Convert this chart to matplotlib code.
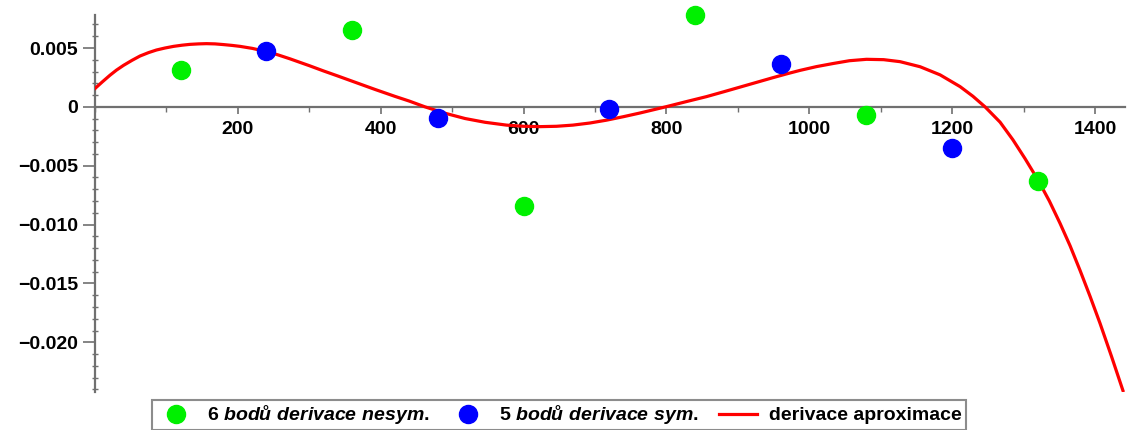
import matplotlib
matplotlib.use("Agg")
import matplotlib.pyplot as plt
from matplotlib.ticker import FixedLocator, FixedFormatter, MultipleLocator

plt.rcParams["font.family"] = ["Liberation Sans", "DejaVu Sans"]
plt.rcParams["font.weight"] = "bold"
plt.rcParams["mathtext.fontset"] = "custom"
plt.rcParams["mathtext.it"] = "Liberation Sans:italic:bold"
plt.rcParams["mathtext.rm"] = "Liberation Sans:bold"

# 6-point non-symmetric derivative
green_x = [120, 360, 600, 840, 1080, 1320]
green_y = [0.00311, 0.00656, -0.00842, 0.00780, -0.00072, -0.00632]

# 5-point symmetric derivative
blue_x = [240, 480, 720, 960, 1200]
blue_y = [0.00475, -0.00098, -0.00022, 0.00362, -0.00350]

# derivative of the approximation
curve_x = [0, 10, 21, 30, 40, 52, 63, 75, 86, 98, 110, 122, 133, 145, 156, 168,
           180, 192, 203, 220, 240, 256, 273, 286, 300, 320, 340, 366, 392, 420,
           440, 462, 490, 518, 546, 576, 600, 623, 646, 669, 693, 716, 740, 763,
           800, 828, 856, 880, 903, 926, 949, 968, 987, 1010, 1033, 1056, 1080,
           1104, 1127, 1155, 1183, 1211, 1229, 1246, 1267, 1285, 1302, 1320,
           1336, 1351, 1365, 1379, 1393, 1407, 1423, 1439]
curve_y = [0.00156, 0.00211, 0.00269, 0.00312, 0.00353, 0.00396, 0.00432, 0.00461,
           0.00483, 0.00500, 0.00514, 0.00524, 0.00531, 0.00535, 0.00537, 0.00535,
           0.00529, 0.00522, 0.00514, 0.00497, 0.00470, 0.00442, 0.00408, 0.00380,
           0.00350, 0.00305, 0.00262, 0.00205, 0.00148, 0.00089, 0.00049, 0.00000,
           -0.00054, -0.00099, -0.00131, -0.00155, -0.00165, -0.00168, -0.00165,
           -0.00155, -0.00137, -0.00113, -0.00083, -0.00052, 0.00002, 0.00045,
           0.00087, 0.00128, 0.00168, 0.00208, 0.00248, 0.00280, 0.00310, 0.00342,
           0.00368, 0.00392, 0.00404, 0.00401, 0.00384, 0.00341, 0.00272, 0.00172,
           0.00090, 0.00000, -0.00130, -0.00280, -0.00440, -0.00620, -0.00800,
           -0.00990, -0.01180, -0.01390, -0.01610, -0.01840, -0.02120, -0.02410]

yticks = [0.005, 0.0, -0.005, -0.010, -0.015, -0.020]
ytick_labels = ["0.005", "0", "\u22120.005", "\u22120.010", "\u22120.015", "\u22120.020"]
xticks = [200, 400, 600, 800, 1000, 1200, 1400]

labels = ["6 $\\it{bodů\\ derivace\\ nesym.}$",
          "5 $\\it{bodů\\ derivace\\ sym.}$",
          "derivace aproximace"]

fig = plt.figure(figsize=(11.27, 4.30), dpi=100)
ax = fig.add_axes([0.0843, 0.089, 0.914, 0.876])

ax.plot(curve_x, curve_y, color="#ff0000", lw=2.3, label=labels[2], zorder=2)
ax.plot(green_x, green_y, "o", color="#00f000", ms=13, label=labels[0],
        zorder=3, clip_on=False)
ax.plot(blue_x, blue_y, "o", color="#0000ff", ms=13, label=labels[1],
        zorder=3, clip_on=False)

ax.set_xlim(0, 1442)
ax.set_ylim(-0.0242, 0.0078)

for s in ["top", "right"]:
    ax.spines[s].set_visible(False)
ax.spines["bottom"].set_position(("data", 0))
ax.spines["left"].set_position(("data", 0))
for s in ["bottom", "left"]:
    ax.spines[s].set_color("#707070")
    ax.spines[s].set_linewidth(1.6)
    ax.spines[s].set_zorder(1)

ax.xaxis.set_major_locator(FixedLocator(xticks))
ax.xaxis.set_minor_locator(MultipleLocator(100))
ax.yaxis.set_major_locator(FixedLocator(yticks))
ax.yaxis.set_major_formatter(FixedFormatter(ytick_labels))
ax.yaxis.set_minor_locator(MultipleLocator(0.001))

ax.tick_params(axis="x", which="major", direction="out", length=5, width=1.2,
               color="#707070", labelsize=14, pad=5)
ax.tick_params(axis="x", which="minor", direction="out", length=3.5, width=1.0,
               color="#707070")
ax.tick_params(axis="y", which="major", direction="out", length=9, width=1.2,
               color="#707070", labelsize=14, pad=3)
ax.tick_params(axis="y", which="minor", direction="inout", length=5, width=1.0,
               color="#707070")

handles, labs = ax.get_legend_handles_labels()
order = [1, 2, 0]
leg = fig.legend([handles[i] for i in order], [labs[i] for i in order],
                 loc="center", bbox_to_anchor=(0.496, 0.035), ncol=3,
                 frameon=True, fancybox=False, edgecolor="#707070",
                 fontsize=14, handlelength=2.0, handletextpad=0.6,
                 columnspacing=1.0, borderpad=0.2, borderaxespad=0)
leg.get_frame().set_linewidth(1.5)

fig.savefig("out.png", dpi=100)
